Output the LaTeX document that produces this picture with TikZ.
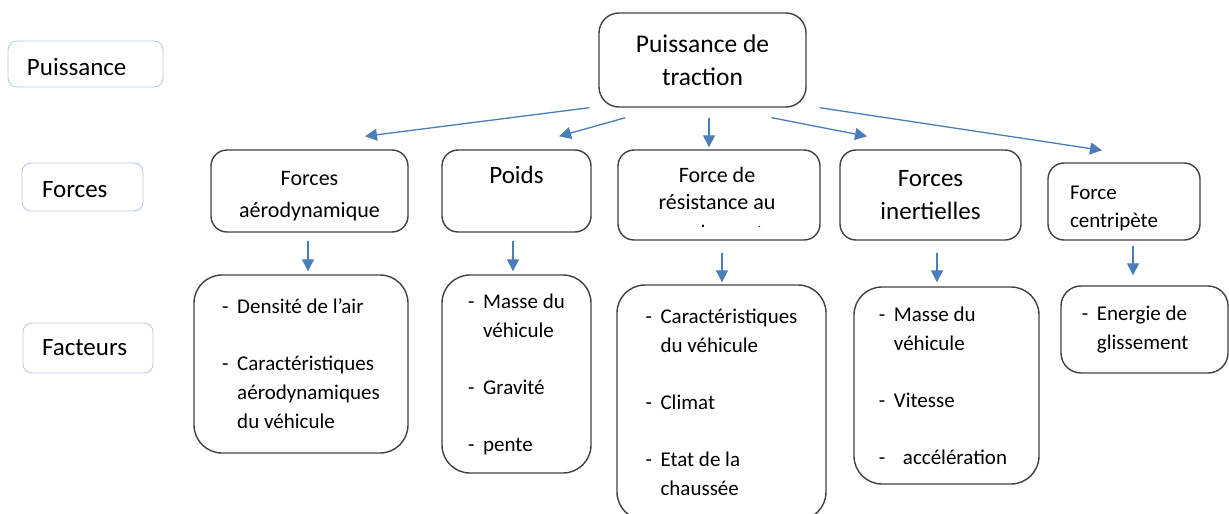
\documentclass[tikz,border=0pt]{standalone}
\usepackage{fontspec}
\setmainfont{Carlito}
\usetikzlibrary{arrows.meta}
\definecolor{boxgray}{HTML}{404040}
\definecolor{arrowblue}{HTML}{4A7EBB}
\definecolor{labelblue}{HTML}{B4C8E6}
\newcommand{\fitem}{\makebox[15pt][l]{-}}
\newcommand{\findent}{\hspace*{15pt}}

\begin{document}
\begin{tikzpicture}[x=1pt, y=-1pt,
    levelbox/.style={draw=labelblue, line width=0.9pt, rounded corners=9pt, align=left, inner sep=0pt, text depth=0pt, font=\fontsize{25}{30}\selectfont},
    forcebox/.style={draw=boxgray, line width=1.4pt, rounded corners=16pt, align=center, inner sep=0pt},
    factbox/.style={draw=boxgray, line width=1.4pt, rounded corners=28pt, align=left, inner sep=0pt, font=\fontsize{21}{29}\selectfont},
    link/.style={draw=arrowblue, line width=1.3pt, -{Triangle[length=12pt, width=12pt]}}]
    \useasboundingbox (0,0) rectangle (1229,514);

    % niveaux
    \node[levelbox, minimum width=155pt, minimum height=46pt, inner xsep=19pt, text width=117pt, text height=22pt] (lpuis) at (85.5,64) {Puissance};
    \node[levelbox, minimum width=121pt, minimum height=48pt, inner xsep=20pt, text width=81pt, text height=20pt] (lforce) at (82.5,187) {Forces};
    \node[levelbox, minimum width=130pt, minimum height=50pt, inner xsep=19pt, text width=92pt, text height=14pt] (lfact) at (88,348) {Facteurs};

    % puissance de traction
    \node[forcebox, rounded corners=20pt, font=\fontsize{25.5}{33}\selectfont, minimum width=207pt, minimum height=94pt] (trac) at (702.5,60) {Puissance de\\traction};

    % forces
    \node[forcebox, font=\fontsize{22}{32}\selectfont, minimum width=197pt, minimum height=82pt] (aero) at (309.5,191) {\mbox{}\\[-7pt]Forces\\aérodynamique};
    \node[forcebox, font=\fontsize{25}{33}\selectfont, minimum width=149pt, minimum height=82pt] (poids) at (516.5,191) {Poids\\\mbox{}};
    \node[forcebox, minimum width=202pt, minimum height=90pt] (res) at (719,195) {};
    \begin{scope}
        \clip (618,150) rectangle (820,226.5);
        \node[font=\fontsize{22}{27}\selectfont, align=center, inner sep=0pt] (restxt) at (717,203.5) {Force de\\résistance au\\[4pt]roulement};
    \end{scope}
    \node[forcebox, font=\fontsize{25}{33}\selectfont, minimum width=181pt, minimum height=90pt] (inert) at (930.5,195) {Forces\\inertielles};
    \node[forcebox, font=\fontsize{21}{28}\selectfont, align=left, inner xsep=22pt, text width=108pt, minimum width=152pt, minimum height=77pt] (cent) at (1124,201.5) {\mbox{}\\[-1.5pt]Force\\centripète};

    % facteurs
    \node[factbox, minimum width=214pt, minimum height=178pt] (f1) at (301,364) {\fitem Densité de l’air\hspace*{6pt}\\[28pt]\fitem Caractéristiques\\\findent aérodynamiques\\\findent du véhicule};
    \node[factbox, minimum width=149pt, minimum height=198pt] (f2) at (516.5,374) {\fitem Masse du\\\findent véhicule\\[28pt]\fitem Gravité\\[28pt]\fitem pente};
    \node[factbox, minimum width=209pt, minimum height=235pt] (f3) at (721.5,402.5) {\fitem Caractéristiques\\\findent du véhicule\\[28pt]\fitem Climat\\[28pt]\fitem Etat de la\\\findent chaussée};
    \node[factbox, minimum width=185pt, minimum height=197pt] (f4) at (946.5,385.5) {\fitem Masse du\\\findent véhicule\\[28pt]\fitem Vitesse\\[28pt]\fitem\hspace{9pt}accélération\hspace*{7pt}};
    \node[factbox, rounded corners=20pt, minimum width=167pt, minimum height=87pt] (f5) at (1144.5,329.5) {\fitem Energie de\hspace*{20pt}\\\findent glissement};

    % fleches
    \draw[link] ([xshift=-9pt]trac.south west) -- ([xshift=55.5pt,yshift=13pt]aero.north);
    \draw[link] ([xshift=27pt,yshift=-10pt]trac.south west) -- ([xshift=42.5pt,yshift=13pt]poids.north);
    \draw[link] ([xshift=6.5pt,yshift=-10pt]trac.south) -- ([xshift=-10pt,yshift=2pt]res.north);
    \draw[link] ([xshift=-35pt,yshift=-10pt]trac.south east) -- ([xshift=-63.5pt,yshift=13pt]inert.north);
    \draw[link] ([xshift=13pt]trac.south east) -- ([xshift=-22pt,yshift=12pt]cent.north);

    \draw[link] ([xshift=-1.5pt,yshift=-8pt]aero.south) -- ([xshift=7pt,yshift=3pt]f1.north);
    \draw[link] ([xshift=-3.5pt,yshift=-8pt]poids.south) -- ([xshift=-3.5pt,yshift=3pt]f2.north);
    \draw[link] ([xshift=3pt,yshift=-12pt]res.south) -- ([xshift=0.5pt,yshift=2pt]f3.north);
    \draw[link] ([xshift=6.5pt,yshift=-12pt]inert.south) -- ([xshift=-9.5pt,yshift=4pt]f4.north);
    \draw[link] ([xshift=9pt,yshift=-5pt]cent.south) -- ([xshift=-11.5pt,yshift=10pt]f5.north);

\end{tikzpicture}
\end{document}
